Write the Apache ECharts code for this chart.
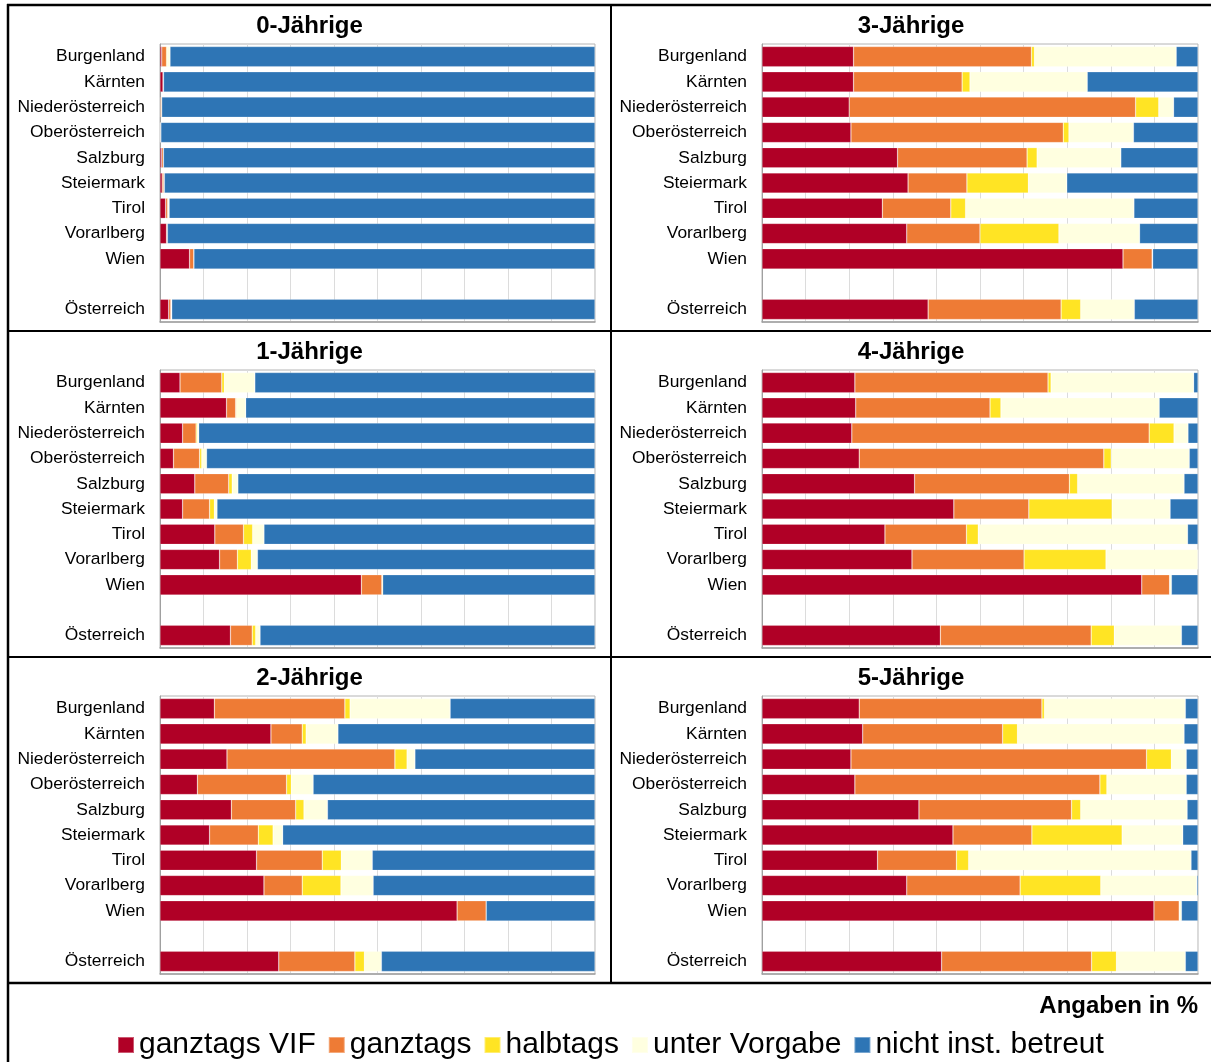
<!DOCTYPE html>
<html><head><meta charset="utf-8">
<script src="https://cdn.jsdelivr.net/npm/echarts@6/dist/echarts.min.js"></script>
<style>html,body{margin:0;padding:0;background:#fff}#c{width:1211px;height:1062px}</style>
</head><body><div id="c"></div><script>
const categories = ['Burgenland','Kärnten','Niederösterreich','Oberösterreich','Salzburg','Steiermark','Tirol','Vorarlberg','Wien','','Österreich'];
const seriesNames = ['ganztags VIF','ganztags','halbtags','unter Vorgabe','nicht inst. betreut'];
const seriesColors = ['#B00026','#EE7B35','#FFE424','#FFFFE0','#2E75B5'];
const panelTitles = ['0-Jährige','3-Jährige','1-Jährige','4-Jährige','2-Jährige','5-Jährige'];

// 0-Jährige
const age0_vif = [0.4,0.7,0.1,0.1,0.4,0.5,1.3,1.5,6.8,null,2.0];
const age0_gt  = [1.1,0.1,0.3,0.1,0.4,0.4,0.5,0.2,1.0,null,0.5];
const age0_ht  = [0.2,0,0,0,0,0,0,0,0,null,0.1];
const age0_uv  = [0.6,0,0,0,0,0.1,0.3,0,0,null,0.1];
const age0_nb  = [97.7,99.2,99.6,99.8,99.2,99.0,97.9,98.3,92.2,null,97.3];
// 1-Jährige
const age1_vif = [4.6,15.3,5.2,3.1,8.0,5.2,12.6,13.7,46.3,null,16.2];
const age1_gt  = [9.6,2.1,3.1,6.0,7.8,6.2,6.6,4.1,4.7,null,5.0];
const age1_ht  = [0.6,0.2,0.3,0.5,0.8,1.1,2.1,3.2,0.2,null,0.8];
const age1_uv  = [7.0,2.1,0.3,1.1,1.3,0.6,2.6,1.4,0,null,1.0];
const age1_nb  = [78.2,80.3,91.1,89.3,82.1,86.9,76.1,77.6,48.8,null,77.0];
// 2-Jährige
const age2_vif = [12.5,25.5,15.4,8.6,16.4,11.4,22.2,23.9,68.3,null,27.3];
const age2_gt  = [30.0,7.2,38.6,20.5,14.8,11.2,15.1,8.8,6.7,null,17.5];
const age2_ht  = [1.2,0.9,2.8,1.1,1.9,3.4,4.4,8.9,0,null,2.2];
const age2_uv  = [23.0,7.3,1.8,5.0,5.4,2.2,7.1,7.4,0,null,3.9];
const age2_nb  = [33.3,59.1,41.4,64.8,61.5,71.8,51.2,51.0,25.0,null,49.1];
// 3-Jährige
const age3_vif = [21.0,21.0,20.0,20.4,31.1,33.5,27.6,33.2,82.8,null,38.1];
const age3_gt  = [40.8,24.9,65.7,48.7,29.7,13.5,15.7,16.8,6.7,null,30.5];
const age3_ht  = [0.7,1.8,5.3,1.3,2.3,14.1,3.4,18.1,0,null,4.5];
const age3_uv  = [32.5,26.9,3.4,14.8,19.2,8.8,38.6,18.5,0.1,null,12.3];
const age3_nb  = [5.0,25.4,5.6,14.8,17.7,30.1,14.7,13.4,10.4,null,14.6];
// 4-Jährige
const age4_vif = [21.3,21.5,20.6,22.3,35.0,44.0,28.2,34.4,87.1,null,40.9];
const age4_gt  = [44.3,30.8,68.2,56.1,35.5,17.2,18.7,25.7,6.4,null,34.6];
const age4_ht  = [0.7,2.5,5.7,1.7,1.9,19.1,2.7,18.8,0,null,5.3];
const age4_uv  = [32.7,36.3,3.2,17.9,24.4,13.3,48.0,21.1,0.4,null,15.4];
const age4_nb  = [1.0,8.9,2.3,2.0,3.2,6.4,2.4,0,6.1,null,3.8];
// 5-Jährige
const age5_vif = [22.3,23.1,20.4,21.3,36.0,43.8,26.5,33.2,89.9,null,41.2];
const age5_gt  = [41.9,32.1,67.8,56.2,35.0,18.1,18.1,26.0,5.8,null,34.4];
const age5_ht  = [0.6,3.4,5.7,1.6,2.1,20.7,2.8,18.5,0,null,5.7];
const age5_uv  = [32.3,38.2,3.4,18.2,24.4,13.9,51.0,22.0,0.5,null,15.8];
const age5_nb  = [2.9,3.2,2.7,2.7,2.5,3.5,1.6,0.3,3.8,null,2.9];

// panel order: row-major (left, right)
const panelData = [
  [age0_vif,age0_gt,age0_ht,age0_uv,age0_nb],
  [age3_vif,age3_gt,age3_ht,age3_uv,age3_nb],
  [age1_vif,age1_gt,age1_ht,age1_uv,age1_nb],
  [age4_vif,age4_gt,age4_ht,age4_uv,age4_nb],
  [age2_vif,age2_gt,age2_ht,age2_uv,age2_nb],
  [age5_vif,age5_gt,age5_ht,age5_uv,age5_nb]
];

const FONT = 'Liberation Sans, Arial, sans-serif';
const colLeft = [160, 762], colWidth = [435, 436];
const rowTop = [44, 370, 696], gridH = 278;
const panelTop = [5, 331, 657];
const colCenter = [309.5, 911];

const grids = [], xAxes = [], yAxes = [], series = [], graphics = [];
for (let p = 0; p < 6; p++) {
  const r = Math.floor(p / 2), c = p % 2;
  grids.push({ left: colLeft[c], top: rowTop[r], width: colWidth[c], height: gridH,
    show: true, borderColor: '#b4b4b4', borderWidth: 1, backgroundColor: '#fff' });
  xAxes.push({ gridIndex: p, type: 'value', min: 0, max: 100, interval: 10,
    axisLabel: { show: false }, axisTick: { show: false },
    axisLine: { show: true, lineStyle: { color: '#a0a0a0', width: 1.5 } },
    splitLine: { show: true, lineStyle: { color: '#dcdcdc', width: 1 } } });
  yAxes.push({ gridIndex: p, type: 'category', data: categories, inverse: true,
    axisTick: { show: false },
    axisLine: { show: true, lineStyle: { color: '#a0a0a0', width: 1 } },
    axisLabel: { fontFamily: FONT, fontSize: 17.4, color: '#000', margin: 15, padding: [7, 0, 0, 0] } });
  for (let s = 0; s < 5; s++) {
    series.push({ type: 'bar', name: seriesNames[s], xAxisIndex: p, yAxisIndex: p,
      stack: 'p' + p, data: panelData[p][s], barCategoryGap: '20%',
      itemStyle: { color: seriesColors[s], borderColor: 'rgba(255,255,255,0.35)', borderWidth: 0.6 },
      emphasis: { disabled: true }, animation: false });
  }
  graphics.push({ type: 'text', x: colCenter[c], y: panelTop[r] + 9,
    style: { text: panelTitles[p], fontFamily: FONT, fontSize: 24, fontWeight: 'bold',
      fill: '#000', textAlign: 'center', textVerticalAlign: 'top' } });
}

// frame lines
const L = (x1,y1,x2,y2,w) => ({ type: 'line', shape: { x1, y1, x2, y2 }, style: { stroke: '#000', lineWidth: w } });
graphics.push(L(7, 5, 1211, 5, 2.5));
graphics.push(L(8, 4, 8, 1062, 2.5));
graphics.push(L(611, 5, 611, 983, 2));
graphics.push(L(8, 331, 1211, 331, 2));
graphics.push(L(8, 657, 1211, 657, 2));
graphics.push(L(8, 983, 1211, 983, 2.5));
graphics.push({ type: 'text', x: 1198, y: 994,
  style: { text: 'Angaben in %', fontFamily: FONT, fontSize: 24, fontWeight: 'bold',
    fill: '#000', textAlign: 'right', textVerticalAlign: 'top' } });

const chart = echarts.init(document.getElementById('c'), null, { renderer: 'canvas' });
chart.setOption({
  animation: false,
  backgroundColor: '#fff',
  grid: grids, xAxis: xAxes, yAxis: yAxes, series: series,
  legend: { data: seriesNames, top: 1025, left: 112, icon: 'rect', itemWidth: 16, itemHeight: 16,
    itemGap: 12, textStyle: { fontFamily: FONT, fontSize: 30, color: '#000' }, selectedMode: false },
  graphic: graphics
});
</script></body></html>
